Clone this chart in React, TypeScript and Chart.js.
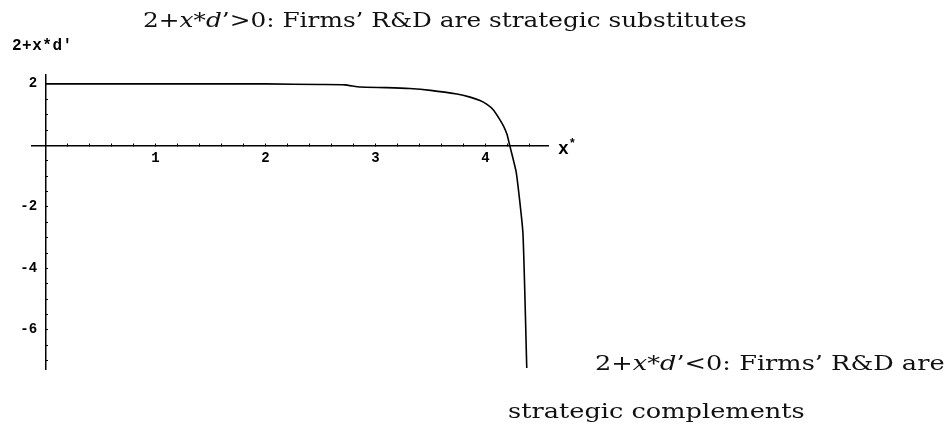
import React, { useEffect, useRef } from "react";
import { Chart, registerables } from "chart.js";

Chart.register(...registerables);

// x* values and the corresponding 2 + x*·d'(x*)
const xStar = [0, 0.5, 1, 1.5, 2, 2.5, 2.72, 2.86, 3.1, 3.31, 3.5, 3.74, 3.86, 3.95, 4.01, 4.07, 4.13, 4.165, 4.195, 4.22, 4.28, 4.34, 4.375];
const slopeTerm = [2, 2, 2, 2, 2, 1.98, 1.97, 1.9, 1.88, 1.85, 1.79, 1.67, 1.57, 1.46, 1.34, 1.16, 0.84, 0.62, 0.36, 0, -0.89, -2.85, -7.24];

// labelled ticks (unlabelled minor ticks fill the rest)
const xTickLabels = [1, 2, 3, 4];
const yTickLabels = [2, -2, -4, -6];

const X_MIN = -0.123;
const X_MAX = 4.568;
const Y_MIN = -7.27;
const Y_MAX = 2.29;

const W = 949;
const H = 428;

const serif = '"DejaVu Serif", "Liberation Serif", serif';
const mono = '"Liberation Mono", "DejaVu Sans Mono", monospace';

const isLabel = (list: number[], v: number) =>
  list.some((t) => Math.abs(t - v) < 1e-6);

export default function App() {
  const canvasRef = useRef<HTMLCanvasElement | null>(null);

  useEffect(() => {
    const canvas = canvasRef.current;
    if (!canvas) return;
    const chart = new Chart(canvas, {
      type: "scatter",
      data: {
        datasets: [
          {
            data: xStar.map((x, i) => ({ x, y: slopeTerm[i] })),
            showLine: true,
            borderColor: "#000",
            borderWidth: 1.6,
            pointRadius: 0,
            tension: 0.15,
          },
        ],
      },
      options: {
        responsive: false,
        animation: false,
        layout: { padding: { left: 32, right: W - 548, top: 75, bottom: H - 369 } },
        plugins: { legend: { display: false }, tooltip: { enabled: false } },
        scales: {
          x: {
            type: "linear",
            min: X_MIN,
            max: X_MAX,
            position: { y: 0 },
            border: { display: true, color: "#000", width: 1.5 },
            grid: { drawOnChartArea: false, color: "#000", tickLength: -3, tickWidth: 1 },
            ticks: {
              stepSize: 0.2,
              autoSkip: false,
              includeBounds: false,
              maxRotation: 0,
              padding: 8,
              color: "#000",
              font: { family: mono, size: 14, weight: "bold" },
              callback: (v) => (isLabel(xTickLabels, Number(v)) ? String(Math.round(Number(v))) : ""),
            },
          },
          y: {
            type: "linear",
            min: Y_MIN,
            max: Y_MAX,
            position: { x: 0 },
            border: { display: true, color: "#000", width: 1.5 },
            grid: { drawOnChartArea: false, color: "#000", tickLength: -3, tickWidth: 1 },
            ticks: {
              stepSize: 0.5,
              autoSkip: false,
              includeBounds: false,
              padding: 8,
              color: "#000",
              font: { family: mono, size: 14, weight: "bold" },
              // trailing space keeps the label clear of the axis line
              callback: (v) => (isLabel(yTickLabels, Number(v)) ? String(Math.round(Number(v))) + " " : ""),
            },
          },
        },
      },
    });
    return () => chart.destroy();
  }, []);

  const textStyle: React.CSSProperties = {
    position: "absolute",
    fontFamily: serif,
    fontSize: 21,
    lineHeight: "24px",
    whiteSpace: "nowrap",
    color: "#111",
    transformOrigin: "0 0",
  };

  return (
    <div style={{ position: "fixed", left: 0, top: 0, width: W, height: H, background: "#fff", overflow: "hidden" }}>
      <canvas ref={canvasRef} width={W} height={H} style={{ position: "absolute", left: 0, top: 0, width: W, height: H }} />
      <div style={{ ...textStyle, left: 143, top: 8, transform: "scaleX(1.18)" }}>
        2+<i>x</i>*<i>d</i>’&gt;0: Firms’ R&amp;D are strategic substitutes
      </div>
      <div style={{ position: "absolute", left: 12, top: 37, fontFamily: mono, fontWeight: "bold", fontSize: 16, letterSpacing: 0.5 }}>
        2+x*d'
      </div>
      <div style={{ position: "absolute", left: 558, top: 137, fontFamily: mono, fontWeight: "bold", fontSize: 18 }}>
        x<sup style={{ fontSize: 12 }}>*</sup>
      </div>
      <div style={{ ...textStyle, left: 595, top: 351, transform: "scaleX(1.22)" }}>
        2+<i>x</i>*<i>d</i>’&lt;0: Firms’ R&amp;D are
      </div>
      <div style={{ ...textStyle, left: 508, top: 399, transform: "scaleX(1.22)" }}>strategic complements</div>
    </div>
  );
}
